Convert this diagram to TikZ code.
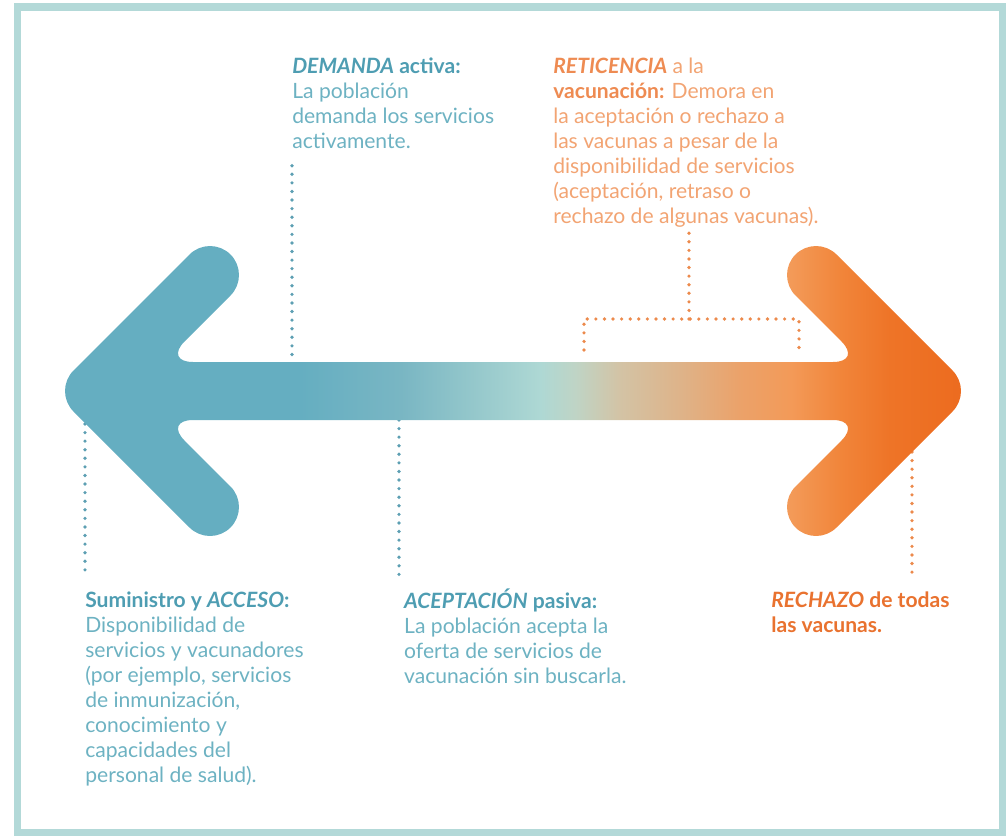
\documentclass[tikz,border=0pt]{standalone}
\usepackage{fontspec}
\setmainfont{Lato}
\usetikzlibrary{positioning}

\definecolor{framecol}{HTML}{B3D9D8}
\definecolor{armteal}{HTML}{65AEC1}
\definecolor{armorange}{HTML}{EC6A1E}
\definecolor{tealhead}{HTML}{4E9DB2}
\definecolor{tealbody}{HTML}{6DB2C2}
\definecolor{orangehead}{HTML}{EE8B52}
\definecolor{orangebody}{HTML}{F2A473}
\definecolor{rechazocol}{HTML}{E9722F}
\definecolor{dotteal}{HTML}{5D9FB3}
\definecolor{dotorange}{HTML}{EC8A4C}

\pgfdeclarehorizontalshading{vacshade}{100bp}{color(0bp)=(armteal); color(38.4bp)=(armteal);
  color(43.9bp)=(rgb,255:red,121;green,182;blue,195); color(48.2bp)=(rgb,255:red,151;green,201;blue,204);
  color(51.5bp)=(rgb,255:red,174;green,216;blue,212); color(53.4bp)=(rgb,255:red,191;green,212;blue,197);
  color(55.8bp)=(rgb,255:red,211;green,195;blue,165); color(59.1bp)=(rgb,255:red,222;green,179;blue,137);
  color(62.3bp)=(rgb,255:red,235;green,162;blue,106); color(65.1bp)=(rgb,255:red,243;green,154;blue,88);
  color(67.8bp)=(rgb,255:red,241;green,133;blue,58); color(70.5bp)=(rgb,255:red,238;green,116;blue,39);
  color(75bp)=(armorange); color(100bp)=(armorange)}

\newcommand{\thead}[1]{{\color{tealhead}\bfseries #1}}
\newcommand{\ohead}[1]{{\color{orangehead}\bfseries #1}}
\newcommand{\txtlines}[1]{\begin{tabular}[t]{@{}l@{}}#1\end{tabular}}

\begin{document}
\begin{tikzpicture}[
x=0.025cm, y=-0.025cm,
txt/.style={
    anchor=base west,
    inner sep=0pt,
    font=\fontsize{15pt}{17.8pt}\selectfont
},
tealtxt/.style={txt, text=tealbody},
orangetxt/.style={txt, text=orangebody},
rechtxt/.style={txt, text=rechazocol, font=\fontsize{15pt}{17.8pt}\selectfont\bfseries},
tealdots/.style={
    draw=dotteal,
    line width=2.6pt,
    line cap=round,
    dash pattern=on 0pt off 6.1pt
},
orangedots/.style={tealdots, draw=dotorange}
]
\useasboundingbox (0,0) rectangle (1006,836);
\draw[framecol, line width=5.5pt] (17.5,7) rectangle (1003,832.5);

\coordinate (shafttop) at (0,362);
\coordinate (shaftbot) at (0,420);
\coordinate (larm) at (0,424);
\coordinate (rarm) at (912,452);
\coordinate (retfork) at (689,319);
\coordinate (retl) at (584,350);
\coordinate (retr) at (799,319);

\node[tealtxt] (dem) at (292,73) {\txtlines{\thead{\textit{DEMANDA} activa:}\\La población\\demanda los servicios\\activamente.}};
\node[orangetxt] (ret) at (553,73) {\txtlines{\ohead{\textit{RETICENCIA}} a la\\\ohead{vacunación:} Demora en\\la aceptación o rechazo a\\las vacunas a pesar de la\\disponibilidad de servicios\\(aceptación, retraso o\\rechazo de algunas vacunas).}};
\node[tealtxt] (sum) at (85,607) {\txtlines{\thead{Suministro y \textit{ACCESO}:}\\Disponibilidad de\\servicios y vacunadores\\(por ejemplo, servicios\\de inmunización,\\conocimiento y\\capacidades del\\personal de salud).}};
\node[tealtxt, inner xsep=3.5pt] (acep) at (399,608) {\txtlines{\thead{\textit{ACEPTACIÓN} pasiva:}\\La población acepta la\\oferta de servicios de\\vacunación sin buscarla.}};
\node[rechtxt] (rech) at (771,607) {\txtlines{\textit{RECHAZO} de todas\\las vacunas.}};

\draw[tealdots] ([yshift=-7pt]dem.south west) -- (dem.south west |- shafttop);
\draw[tealdots] (sum.north west |- larm) -- ([yshift=10pt]sum.north west);
\draw[tealdots] (acep.north west |- shaftbot) -- ([yshift=9.5pt]acep.north west);
\draw[orangedots] (rarm) -- ++(0,125);
\draw[orangedots] (retfork) -- ++(0,-86);
\draw[orangedots] (retl) |- (retr) -- ++(0,31);

\shade[shading=vacshade, rounded corners=0.725cm]
    (164,362) -- (862,362) -- (775,275) -- (816,234) -- (973,391) -- (816,548) -- (775,507)
    -- (862,420) -- (164,420) -- (251,507) -- (210,548) -- (53,391) -- (210,234) -- (251,275) -- cycle;
\end{tikzpicture}
\end{document}
